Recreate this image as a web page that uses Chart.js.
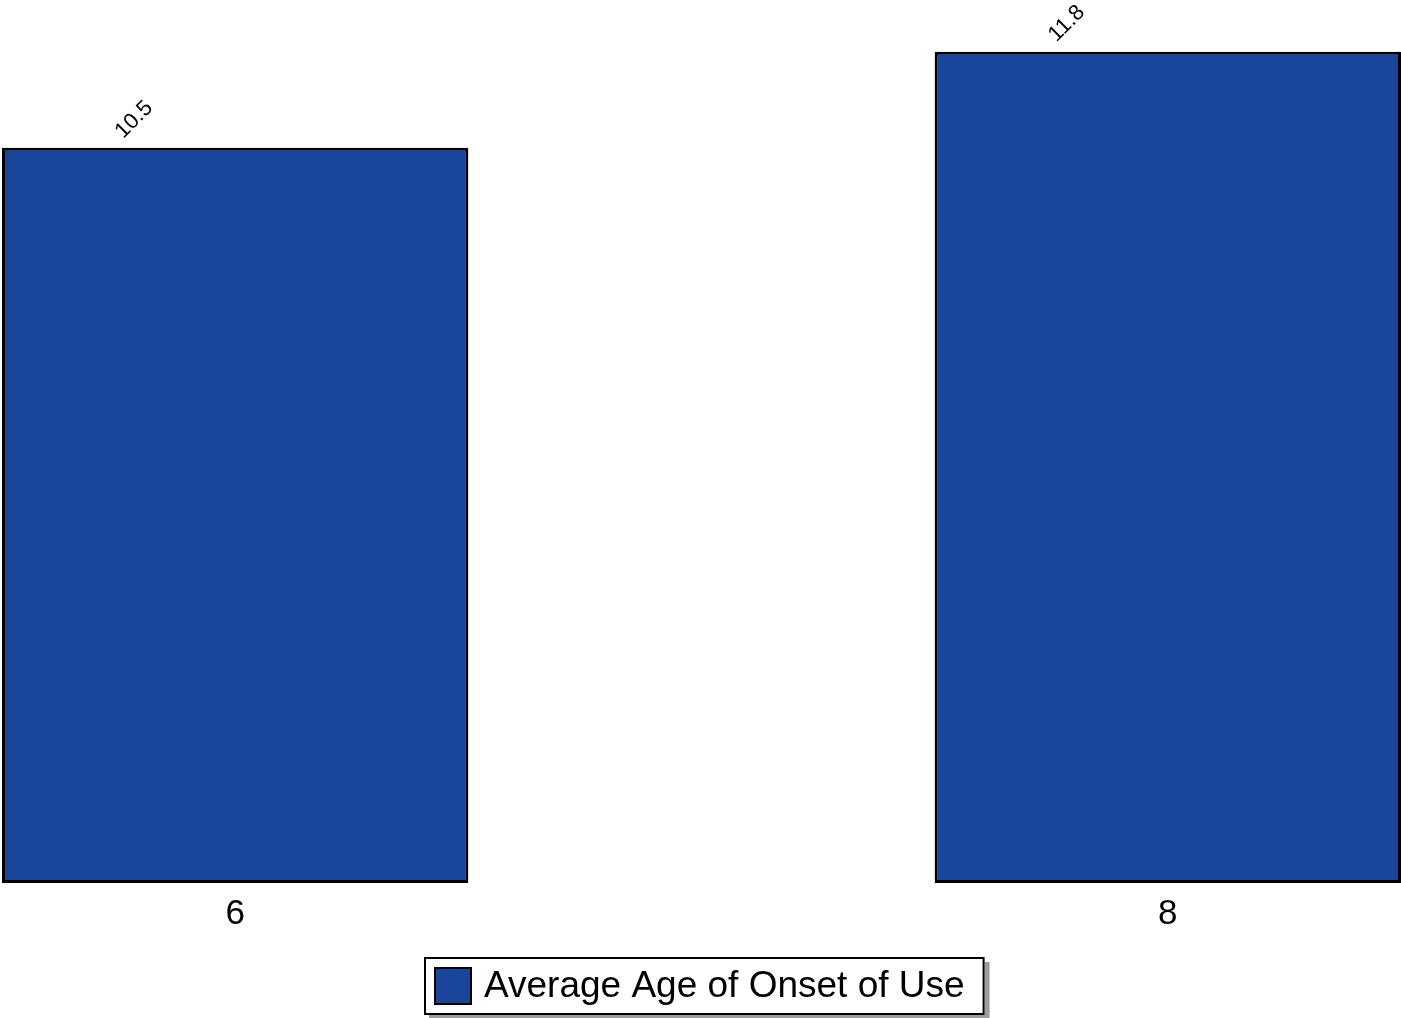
<!DOCTYPE html>
<html>
<head>
<meta charset="utf-8">
<script src="https://cdn.jsdelivr.net/npm/chart.js@4"></script>
<style>
  html, body { margin: 0; padding: 0; background: #fff; }
  #wrap { width: 1401px; height: 1018px; position: relative; }
</style>
</head>
<body>
<div id="wrap"><canvas id="onsetChart"></canvas></div>
<script>
// data
const grades = [6, 8];
const onsetAge = [10.5, 11.8];
const seriesName = 'Average Age of Onset of Use';

const Y_MIN = 0.55, Y_MAX = 12.5;
const BAR_BLUE = '#19469a';
const FONT = '"Liberation Sans", Arial, Helvetica, sans-serif';

// rotated value labels above each bar
const valueLabels = {
  id: 'valueLabels',
  afterDatasetsDraw(chart) {
    const ctx = chart.ctx;
    const meta = chart.getDatasetMeta(0);
    ctx.save();
    ctx.font = '22px ' + FONT;
    ctx.fillStyle = '#000';
    ctx.textAlign = 'center';
    ctx.textBaseline = 'middle';
    meta.data.forEach((bar, i) => {
      ctx.save();
      ctx.translate(bar.x - 101, bar.y - 28);
      ctx.rotate(-Math.PI / 4);
      ctx.fillText(onsetAge[i].toFixed(1), 0, 0);
      ctx.restore();
    });
    ctx.restore();
  }
};

// boxed legend with drop shadow under the axis
const boxedLegend = {
  id: 'boxedLegend',
  afterDraw(chart) {
    const ctx = chart.ctx;
    ctx.save();
    ctx.font = '37px ' + FONT;
    const textW = ctx.measureText(seriesName).width;
    const w = 10 + 38 + 12 + textW + 20;
    const h = 58;
    const x = 424;
    const y = 957;
    // shadow
    ctx.fillStyle = '#9c9c9c';
    ctx.fillRect(x + 5, y + 5, w, h);
    ctx.fillStyle = '#fff';
    ctx.fillRect(x, y, w, h);
    ctx.lineWidth = 2;
    ctx.strokeStyle = '#000';
    ctx.strokeRect(x + 1, y + 1, w - 2, h - 2);
    // swatch
    ctx.fillStyle = BAR_BLUE;
    ctx.fillRect(x + 10, y + 10, 38, 38);
    ctx.strokeRect(x + 11, y + 11, 36, 36);
    // label
    ctx.fillStyle = '#000';
    ctx.textAlign = 'left';
    ctx.textBaseline = 'middle';
    ctx.fillText(seriesName, x + 60, y + h / 2 + 1);
    ctx.restore();
  }
};

new Chart(document.getElementById('onsetChart'), {
  type: 'bar',
  data: {
    datasets: [{
      label: seriesName,
      data: grades.map((g, i) => ({ x: g, y: onsetAge[i] })),
      base: Y_MIN,
      backgroundColor: BAR_BLUE,
      borderColor: '#000',
      borderWidth: 3,
      borderSkipped: false,
      barPercentage: 0.5,
      categoryPercentage: 1
    }]
  },
  options: {
    responsive: true, maintainAspectRatio: false,
    animation: false,
    layout: { padding: { left: 2, right: 0, top: 0, bottom: 81 } },
    plugins: {
      tooltip: { enabled: false },
      legend: { display: false }
    },
    scales: {
      x: {
        type: 'linear',
        offset: false,
        min: 5.5, max: 8.5,
        afterBuildTicks: (axis) => { axis.ticks = grades.map(v => ({ value: v })); },
        grid: { display: false },
        border: { display: false },
        ticks: {
          font: { family: FONT, size: 35 },
          color: '#000',
          padding: 2
        }
      },
      y: {
        display: false,
        min: Y_MIN, max: Y_MAX
      }
    }
  },
  plugins: [valueLabels, boxedLegend]
});
</script>
</body>
</html>
